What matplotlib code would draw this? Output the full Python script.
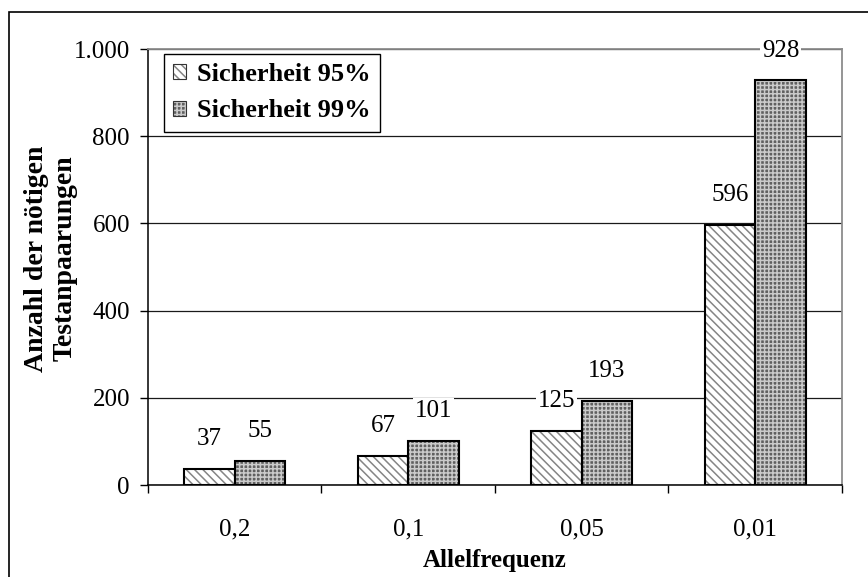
import matplotlib
matplotlib.use("Agg")
import matplotlib.pyplot as plt
from matplotlib.patches import Rectangle, Patch
import numpy as np

plt.rcParams['font.family'] = ['Liberation Serif', 'DejaVu Serif']
plt.rcParams['hatch.linewidth'] = 1.1

# data
categories = ['0,2', '0,1', '0,05', '0,01']
series_names = ['Sicherheit 95%', 'Sicherheit 99%']
values_95 = [37, 67, 125, 596]
values_99 = [55, 101, 193, 928]
yticks = [0, 200, 400, 600, 800, 1000]
ytick_labels = ['0', '200', '400', '600', '800', '1.000']

# fill styles: (face colour, hatch, hatch colour)
styles = [('white', '\\' * 4, '#858585'),
          ('#606060', '+' * 4, '#cacaca')]

fig = plt.figure(figsize=(8.68, 5.77), dpi=100)
ax = fig.add_axes([0.1705, 0.1594, 0.7995, 0.7556])

x = np.arange(len(categories))
w = 0.291
fs = 18

handles = []
for k, vals in enumerate([values_95, values_99]):
    face, hatch, hcol = styles[k]
    pos = x + (k - 0.5) * w
    ax.bar(pos, vals, w, color=face, hatch=hatch, edgecolor=hcol, linewidth=0, zorder=2)
    ax.bar(pos, vals, w, fill=False, edgecolor='black', linewidth=1.5, zorder=3)
    for px, v in zip(pos, vals):
        ax.annotate(str(v), (px, v), xytext=(0, 21.5), textcoords='offset points',
                    ha='center', va='center', fontsize=fs, zorder=5,
                    bbox=dict(facecolor='white', edgecolor='none', pad=1.5))
    handles.append((Patch(facecolor=face, hatch=hatch, edgecolor=hcol, linewidth=0),
                    Patch(fill=False, edgecolor='#333333', linewidth=0.8)))

ax.set_xlim(-0.5, len(categories) - 0.5)
ax.set_ylim(0, 1000)
ax.set_yticks(yticks)
ax.set_yticklabels(ytick_labels, fontsize=fs)
ax.set_xticks(x)
ax.set_xticklabels(categories, fontsize=fs)
ax.set_xticks(np.arange(len(categories) + 1) - 0.5, minor=True)
ax.tick_params(axis='x', which='major', length=0, pad=24)
ax.tick_params(axis='x', which='minor', length=6, width=1, direction='out')
ax.tick_params(axis='y', length=6, width=1, direction='out', pad=7)

ax.yaxis.grid(True, color='#1a1a1a', linewidth=0.9)
ax.set_axisbelow(True)

for side in ['left', 'bottom']:
    ax.spines[side].set_color('black')
    ax.spines[side].set_linewidth(1.1)
for side in ['top', 'right']:
    ax.spines[side].set_color('#8c8c8c')
    ax.spines[side].set_linewidth(1.3)

ax.set_xlabel('Allelfrequenz', fontsize=fs, fontweight='bold', labelpad=6)
ax.set_ylabel('Anzahl der nötigen\nTestanpaarungen', fontsize=20, fontweight='bold',
              linespacing=1.2, va='center')
ax.yaxis.set_label_coords(-0.1405, 0.52)

leg = ax.legend(handles, series_names, loc='upper left', bbox_to_anchor=(0.023, 0.9885),
                borderaxespad=0, fancybox=False, framealpha=1, edgecolor='black',
                prop=dict(size=19, weight='bold'), handlelength=0.5, handleheight=0.5,
                handletextpad=0.4, labelspacing=0.5, borderpad=0.35)
leg.get_frame().set_linewidth(1.0)
leg.set_zorder(6)

# outer chart border
fig.patches.append(Rectangle((9 / 868, -0.1), 2, 1 - 12 / 577 + 0.1, transform=fig.transFigure,
                             fill=False, edgecolor='black', linewidth=1.2, clip_on=False))

fig.savefig('out.png', dpi=100)
